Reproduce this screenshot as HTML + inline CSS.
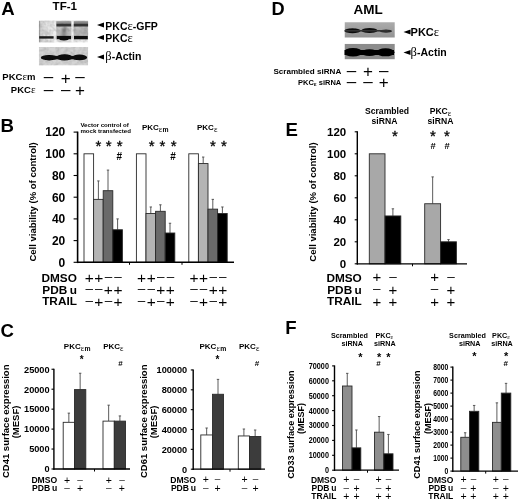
<!DOCTYPE html>
<html><head><meta charset="utf-8"><title>Figure</title>
<style>
html,body{margin:0;padding:0;background:#fff;}
svg{display:block;font-family:"Liberation Sans",sans-serif;filter:blur(0.4px);}
</style></head><body>
<svg width="520" height="501" viewBox="0 0 520 501">
<rect width="520" height="501" fill="#fff"/>
<defs>
<filter id="b1" x="-20%" y="-50%" width="140%" height="200%"><feGaussianBlur stdDeviation="0.75"/></filter>
<filter id="b2" x="-20%" y="-50%" width="140%" height="200%"><feGaussianBlur stdDeviation="1.4"/></filter>
<filter id="nz" x="0" y="0" width="100%" height="100%"><feTurbulence type="fractalNoise" baseFrequency="0.25" numOctaves="2" seed="3"/><feColorMatrix type="matrix" values="0 0 0 0 0  0 0 0 0 0  0 0 0 0 0  0.25 0.25 0 0 -0.2"/><feGaussianBlur stdDeviation="0.6"/></filter>
<clipPath id="cA1"><rect x="38.8" y="20.6" width="49.4" height="22"/></clipPath>
<clipPath id="cA2"><rect x="38.8" y="47" width="49.4" height="18.6"/></clipPath>
<clipPath id="cD1"><rect x="344.5" y="22.3" width="50.3" height="15.2"/></clipPath>
<clipPath id="cD2"><rect x="344.5" y="43.8" width="50.3" height="15.6"/></clipPath>
</defs>
<!-- blot A top -->
<linearGradient id="gA1" x1="0" y1="0" x2="1" y2="0"><stop offset="0" stop-color="#8c8c8c"/><stop offset="0.12" stop-color="#cfcfcf"/><stop offset="0.35" stop-color="#e2e2e2"/><stop offset="1" stop-color="#ececec"/></linearGradient>
<g clip-path="url(#cA1)">
<rect x="38.8" y="20.6" width="49.4" height="22" fill="#ececec"/>
<rect x="38.8" y="20.6" width="15.6" height="22" fill="url(#gA1)"/>
<rect x="56.2" y="20.6" width="15.2" height="19" fill="#c6c6c6"/>
<rect x="73.6" y="20.6" width="14.6" height="19" fill="#c2c2c2"/>
<rect x="54.5" y="20.6" width="1.6" height="22" fill="#f4f4f4"/>
<rect x="71.6" y="20.6" width="1.9" height="22" fill="#fafafa"/>
<rect x="38.8" y="20.6" width="49.4" height="22" fill="#000" filter="url(#nz)"/>
<g filter="url(#b2)">
<rect x="62.3" y="28" width="3.6" height="9" fill="#5a5a5a"/>
<rect x="44" y="30" width="3" height="4" fill="#b4b4b4"/>
<rect x="74" y="30.3" width="14" height="1.4" fill="#9a9a9a"/>
<rect x="74" y="33.2" width="14" height="1.2" fill="#a2a2a2"/>
<rect x="57" y="32.5" width="14" height="2" fill="#a4a4a4"/>
</g>
<g filter="url(#b1)">
<rect x="56.4" y="21.4" width="14.8" height="1.8" fill="#909090"/>
<rect x="73.8" y="21.4" width="14.6" height="1.8" fill="#868686"/>
<rect x="56.4" y="23.5" width="14.8" height="3" fill="#363636"/>
<rect x="73.8" y="23.5" width="14.6" height="3" fill="#303030"/>
<rect x="39.2" y="36.2" width="14.4" height="2.4" fill="#1a1a1a"/>
<rect x="56.8" y="35.9" width="14.2" height="3.2" fill="#0c0c0c"/>
<ellipse cx="64" cy="38.2" rx="5" ry="2.2" fill="#0c0c0c"/>
<rect x="74" y="35.9" width="13.8" height="3.3" fill="#0c0c0c"/>
</g>
</g>
<!-- blot A actin -->
<g clip-path="url(#cA2)">
<rect x="38.8" y="47" width="49.4" height="18.6" fill="#d4d4d4"/>
<rect x="38.8" y="47" width="49.4" height="18.6" fill="#000" filter="url(#nz)" opacity="0.7"/>
<g filter="url(#b1)" fill="#080808">
<ellipse cx="49.2" cy="57.7" rx="8.4" ry="2.7"/>
<ellipse cx="64.6" cy="57.4" rx="8.2" ry="3.1"/>
<ellipse cx="79.6" cy="57.4" rx="7.6" ry="2.8"/>
<rect x="45" y="55.9" width="36" height="3.4"/>
</g>
</g>
<!-- blot D top -->
<linearGradient id="gD1" x1="0" y1="0" x2="0" y2="1"><stop offset="0" stop-color="#acacac"/><stop offset="1" stop-color="#929292"/></linearGradient>
<g clip-path="url(#cD1)">
<rect x="344.5" y="22" width="50.4" height="16" fill="url(#gD1)"/>
<g filter="url(#b1)" fill="#0c0c0c">
<ellipse cx="352.5" cy="30.8" rx="8" ry="2.5"/>
<ellipse cx="369.5" cy="30.6" rx="8" ry="2.5"/>
<ellipse cx="386" cy="31.2" rx="6" ry="1.6" fill="#2a2a2a"/>
<rect x="344" y="30" width="44" height="1.6" fill="#333"/>
</g>
</g>
<!-- blot D actin -->
<g clip-path="url(#cD2)">
<rect x="344.5" y="43.8" width="50.4" height="15.6" fill="#8c8c8c"/>
<g filter="url(#b1)" fill="#030303">
<ellipse cx="353" cy="52.2" rx="9.5" ry="4.3"/>
<ellipse cx="369.5" cy="52.6" rx="8.5" ry="3.4"/>
<ellipse cx="385.5" cy="52.3" rx="9" ry="4"/>
<rect x="344" y="50" width="50" height="5"/>
</g>
</g>

<text x="1.2" y="15.1" font-size="18.6" text-anchor="start" font-weight="bold" fill="#000" >A</text>
<text x="0.6" y="131.7" font-size="18.6" text-anchor="start" font-weight="bold" fill="#000" >B</text>
<text x="0.6" y="337.3" font-size="18.6" text-anchor="start" font-weight="bold" fill="#000" >C</text>
<text x="271.6" y="15" font-size="18.2" text-anchor="start" font-weight="bold" fill="#000" >D</text>
<text x="285.4" y="136" font-size="18.6" text-anchor="start" font-weight="bold" fill="#000" >E</text>
<text x="285.2" y="334" font-size="18.6" text-anchor="start" font-weight="bold" fill="#000" >F</text>
<text x="64.8" y="10.3" font-size="11.6" text-anchor="middle" font-weight="bold" fill="#000" >TF-1</text>
<g id="blotA"></g>
<polygon points="97,24.9 104,22.4 104,27.4" fill="#000"/>
<text x="105.3" y="30.2" font-size="10.5" text-anchor="start" font-weight="bold" fill="#000" >PKC<tspan font-family="Liberation Serif,serif" font-weight="normal" font-size="12.5">ε</tspan>-GFP</text>
<polygon points="97,37.4 104,34.9 104,39.9" fill="#000"/>
<text x="105.3" y="41.6" font-size="10.5" text-anchor="start" font-weight="bold" fill="#000" >PKC<tspan font-family="Liberation Serif,serif" font-weight="normal" font-size="12.5">ε</tspan></text>
<polygon points="97,56.9 104,54.4 104,59.4" fill="#000"/>
<text x="105.3" y="60.2" font-size="10.5" text-anchor="start" font-weight="bold" fill="#000" ><tspan font-family="Liberation Serif,serif" font-weight="normal" font-size="12.5">β</tspan>-Actin</text>
<text x="35.5" y="80.4" font-size="9.5" text-anchor="end" font-weight="bold" fill="#000" >PKC<tspan font-family="Liberation Serif,serif" font-weight="normal" font-size="11">ε</tspan>m</text>
<text x="35.5" y="92.5" font-size="9.5" text-anchor="end" font-weight="bold" fill="#000" >PKC<tspan font-family="Liberation Serif,serif" font-weight="normal" font-size="11">ε</tspan></text>
<text x="48.5" y="82.33" font-size="17.0" text-anchor="middle" font-weight="normal" fill="#000" >–</text>
<text x="48.5" y="94.83" font-size="17.0" text-anchor="middle" font-weight="normal" fill="#000" >–</text>
<text x="65.7" y="83.69" font-size="17" text-anchor="middle" font-weight="normal" fill="#000" >+</text>
<text x="65.7" y="94.83" font-size="17.0" text-anchor="middle" font-weight="normal" fill="#000" >–</text>
<text x="80" y="82.33" font-size="17.0" text-anchor="middle" font-weight="normal" fill="#000" >–</text>
<text x="80" y="96.19" font-size="17" text-anchor="middle" font-weight="normal" fill="#000" >+</text>
<text x="368.1" y="13.6" font-size="13.5" text-anchor="middle" font-weight="bold" fill="#000" >AML</text>
<g id="blotD"></g>
<polygon points="403.5,32 410.5,29.5 410.5,34.5" fill="#000"/>
<text x="410.6" y="36" font-size="11" text-anchor="start" font-weight="bold" fill="#000" >PKC<tspan font-family="Liberation Serif,serif" font-weight="normal" font-size="12.5">ε</tspan></text>
<polygon points="403.5,52.5 410.5,50.0 410.5,55.0" fill="#000"/>
<text x="410.6" y="55.8" font-size="10.5" text-anchor="start" font-weight="bold" fill="#000" ><tspan font-family="Liberation Serif,serif" font-weight="normal" font-size="12.5">β</tspan>-Actin</text>
<text x="341.3" y="74" font-size="8.1" text-anchor="end" font-weight="bold" fill="#000" >Scrambled siRNA</text>
<text x="341.3" y="85.2" font-size="7.5" text-anchor="end" font-weight="bold" fill="#000" >PKC<tspan font-size="6" dy="1">ε</tspan><tspan dy="-1"> siRNA</tspan></text>
<text x="351.5" y="75.53" font-size="17.0" text-anchor="middle" font-weight="normal" fill="#000" >–</text>
<text x="351.5" y="86.83" font-size="17.0" text-anchor="middle" font-weight="normal" fill="#000" >–</text>
<text x="368" y="76.9" font-size="17" text-anchor="middle" font-weight="normal" fill="#000" >+</text>
<text x="368" y="86.83" font-size="17.0" text-anchor="middle" font-weight="normal" fill="#000" >–</text>
<text x="383.8" y="75.53" font-size="17.0" text-anchor="middle" font-weight="normal" fill="#000" >–</text>
<text x="383.8" y="88.19" font-size="17" text-anchor="middle" font-weight="normal" fill="#000" >+</text>
<rect x="84.00" y="153.80" width="9.60" height="108.50" fill="#ffffff" stroke="#2a2a2a" stroke-width="0.9"/>
<line x1="98.40" y1="199.37" x2="98.40" y2="180.93" stroke="#4a4a4a" stroke-width="0.9"/>
<line x1="97.20" y1="180.93" x2="99.60" y2="180.93" stroke="#4a4a4a" stroke-width="0.9"/>
<rect x="93.60" y="199.37" width="9.60" height="62.93" fill="#b4b4b4" stroke="#2a2a2a" stroke-width="0.9"/>
<line x1="108.00" y1="190.69" x2="108.00" y2="170.08" stroke="#4a4a4a" stroke-width="0.9"/>
<line x1="106.80" y1="170.08" x2="109.20" y2="170.08" stroke="#4a4a4a" stroke-width="0.9"/>
<rect x="103.20" y="190.69" width="9.60" height="71.61" fill="#6a6a6a" stroke="#2a2a2a" stroke-width="0.9"/>
<line x1="117.60" y1="229.75" x2="117.60" y2="218.90" stroke="#4a4a4a" stroke-width="0.9"/>
<line x1="116.40" y1="218.90" x2="118.80" y2="218.90" stroke="#4a4a4a" stroke-width="0.9"/>
<rect x="112.80" y="229.75" width="9.60" height="32.55" fill="#000000" stroke="#2a2a2a" stroke-width="0.9"/>
<rect x="136.40" y="153.80" width="9.60" height="108.50" fill="#ffffff" stroke="#2a2a2a" stroke-width="0.9"/>
<line x1="150.80" y1="213.48" x2="150.80" y2="206.97" stroke="#4a4a4a" stroke-width="0.9"/>
<line x1="149.60" y1="206.97" x2="152.00" y2="206.97" stroke="#4a4a4a" stroke-width="0.9"/>
<rect x="146.00" y="213.48" width="9.60" height="48.82" fill="#b4b4b4" stroke="#2a2a2a" stroke-width="0.9"/>
<line x1="160.40" y1="211.31" x2="160.40" y2="204.80" stroke="#4a4a4a" stroke-width="0.9"/>
<line x1="159.20" y1="204.80" x2="161.60" y2="204.80" stroke="#4a4a4a" stroke-width="0.9"/>
<rect x="155.60" y="211.31" width="9.60" height="51.00" fill="#6a6a6a" stroke="#2a2a2a" stroke-width="0.9"/>
<line x1="170.00" y1="233.01" x2="170.00" y2="223.24" stroke="#4a4a4a" stroke-width="0.9"/>
<line x1="168.80" y1="223.24" x2="171.20" y2="223.24" stroke="#4a4a4a" stroke-width="0.9"/>
<rect x="165.20" y="233.01" width="9.60" height="29.29" fill="#000000" stroke="#2a2a2a" stroke-width="0.9"/>
<rect x="188.80" y="153.80" width="9.60" height="108.50" fill="#ffffff" stroke="#2a2a2a" stroke-width="0.9"/>
<line x1="203.20" y1="163.56" x2="203.20" y2="157.06" stroke="#4a4a4a" stroke-width="0.9"/>
<line x1="202.00" y1="157.06" x2="204.40" y2="157.06" stroke="#4a4a4a" stroke-width="0.9"/>
<rect x="198.40" y="163.56" width="9.60" height="98.74" fill="#b4b4b4" stroke="#2a2a2a" stroke-width="0.9"/>
<line x1="212.80" y1="209.14" x2="212.80" y2="199.37" stroke="#4a4a4a" stroke-width="0.9"/>
<line x1="211.60" y1="199.37" x2="214.00" y2="199.37" stroke="#4a4a4a" stroke-width="0.9"/>
<rect x="208.00" y="209.14" width="9.60" height="53.16" fill="#6a6a6a" stroke="#2a2a2a" stroke-width="0.9"/>
<line x1="222.40" y1="213.48" x2="222.40" y2="206.97" stroke="#4a4a4a" stroke-width="0.9"/>
<line x1="221.20" y1="206.97" x2="223.60" y2="206.97" stroke="#4a4a4a" stroke-width="0.9"/>
<rect x="217.60" y="213.48" width="9.60" height="48.82" fill="#000000" stroke="#2a2a2a" stroke-width="0.9"/>
<line x1="77.60" y1="131.60" x2="77.60" y2="263.10" stroke="#000" stroke-width="1.6"/>
<line x1="77.10" y1="262.30" x2="234.00" y2="262.30" stroke="#000" stroke-width="1.6"/>
<line x1="73.60" y1="262.30" x2="77.60" y2="262.30" stroke="#000" stroke-width="1.1"/>
<text x="65.3" y="266.62" font-size="12" text-anchor="end" font-weight="bold" fill="#000" >0</text>
<line x1="73.60" y1="240.60" x2="77.60" y2="240.60" stroke="#000" stroke-width="1.1"/>
<text x="65.3" y="244.92000000000002" font-size="12" text-anchor="end" font-weight="bold" fill="#000" >20</text>
<line x1="73.60" y1="218.90" x2="77.60" y2="218.90" stroke="#000" stroke-width="1.1"/>
<text x="65.3" y="223.22" font-size="12" text-anchor="end" font-weight="bold" fill="#000" >40</text>
<line x1="73.60" y1="197.20" x2="77.60" y2="197.20" stroke="#000" stroke-width="1.1"/>
<text x="65.3" y="201.52" font-size="12" text-anchor="end" font-weight="bold" fill="#000" >60</text>
<line x1="73.60" y1="175.50" x2="77.60" y2="175.50" stroke="#000" stroke-width="1.1"/>
<text x="65.3" y="179.82" font-size="12" text-anchor="end" font-weight="bold" fill="#000" >80</text>
<line x1="73.60" y1="153.80" x2="77.60" y2="153.80" stroke="#000" stroke-width="1.1"/>
<text x="65.3" y="158.12" font-size="12" text-anchor="end" font-weight="bold" fill="#000" >100</text>
<line x1="73.60" y1="132.10" x2="77.60" y2="132.10" stroke="#000" stroke-width="1.1"/>
<text x="65.3" y="136.42000000000002" font-size="12" text-anchor="end" font-weight="bold" fill="#000" >120</text>
<line x1="129.50" y1="262.30" x2="129.50" y2="264.80" stroke="#000" stroke-width="1.0"/>
<line x1="182.00" y1="262.30" x2="182.00" y2="264.80" stroke="#000" stroke-width="1.0"/>
<text transform="translate(35.6,201.9) rotate(-90)" font-size="9.5" font-weight="bold" text-anchor="middle">Cell viability (% of control)</text>
<text x="80.4" y="127" font-size="6.1" text-anchor="start" font-weight="bold" fill="#000" >Vector control of</text>
<text x="80.4" y="133.2" font-size="6.1" text-anchor="start" font-weight="bold" fill="#000" >mock transfected</text>
<text x="141.9" y="130.2" font-size="8" text-anchor="start" font-weight="bold" fill="#000" >PKC<tspan dx="1.2"></tspan><tspan font-family="Liberation Serif,serif" font-weight="normal" font-size="8.4" dy="1.6">ε</tspan><tspan font-size="6.8" dx="0.2">m</tspan></text>
<text x="197" y="130.2" font-size="8" text-anchor="start" font-weight="bold" fill="#000" >PKC<tspan dx="1.6"></tspan><tspan font-family="Liberation Serif,serif" font-weight="normal" font-size="8.4" dy="1.6">ε</tspan></text>
<text x="98.5" y="150.9" font-size="15" text-anchor="middle" font-weight="normal" fill="#000" stroke="#000" stroke-width="0.3">*</text>
<text x="108.7" y="150.9" font-size="15" text-anchor="middle" font-weight="normal" fill="#000" stroke="#000" stroke-width="0.3">*</text>
<text x="119.6" y="150.9" font-size="15" text-anchor="middle" font-weight="normal" fill="#000" stroke="#000" stroke-width="0.3">*</text>
<text x="119.2" y="159.6" font-size="10" text-anchor="middle" font-weight="bold" fill="#000" >#</text>
<text x="151.7" y="150.9" font-size="15" text-anchor="middle" font-weight="normal" fill="#000" stroke="#000" stroke-width="0.3">*</text>
<text x="162.4" y="150.9" font-size="15" text-anchor="middle" font-weight="normal" fill="#000" stroke="#000" stroke-width="0.3">*</text>
<text x="173.6" y="150.9" font-size="15" text-anchor="middle" font-weight="normal" fill="#000" stroke="#000" stroke-width="0.3">*</text>
<text x="173" y="159.6" font-size="10" text-anchor="middle" font-weight="bold" fill="#000" >#</text>
<text x="213" y="150.9" font-size="15" text-anchor="middle" font-weight="normal" fill="#000" stroke="#000" stroke-width="0.3">*</text>
<text x="224" y="150.9" font-size="15" text-anchor="middle" font-weight="normal" fill="#000" stroke="#000" stroke-width="0.3">*</text>
<text x="76.9" y="281.8" font-size="11.8" text-anchor="end" font-weight="bold" fill="#000" >DMSO</text>
<text x="76.9" y="293.7" font-size="11.8" text-anchor="end" font-weight="bold" fill="#000" >PDB<tspan dx="2.4">u</tspan></text>
<text x="76.9" y="304.9" font-size="11.8" text-anchor="end" font-weight="bold" fill="#000" >TRAIL</text>
<text x="89.2" y="282.59" font-size="15.5" text-anchor="middle" font-weight="normal" fill="#000" >+</text>
<text x="98.80000000000001" y="282.59" font-size="15.5" text-anchor="middle" font-weight="normal" fill="#000" >+</text>
<text x="108.4" y="280.84" font-size="13.48" text-anchor="middle" font-weight="normal" fill="#000" >–</text>
<text x="118.0" y="280.84" font-size="13.48" text-anchor="middle" font-weight="normal" fill="#000" >–</text>
<text x="89.2" y="293.34" font-size="13.48" text-anchor="middle" font-weight="normal" fill="#000" >–</text>
<text x="98.80000000000001" y="293.34" font-size="13.48" text-anchor="middle" font-weight="normal" fill="#000" >–</text>
<text x="108.4" y="295.09" font-size="15.5" text-anchor="middle" font-weight="normal" fill="#000" >+</text>
<text x="118.0" y="295.09" font-size="15.5" text-anchor="middle" font-weight="normal" fill="#000" >+</text>
<text x="89.2" y="305.04" font-size="13.48" text-anchor="middle" font-weight="normal" fill="#000" >–</text>
<text x="98.80000000000001" y="306.79" font-size="15.5" text-anchor="middle" font-weight="normal" fill="#000" >+</text>
<text x="108.4" y="305.04" font-size="13.48" text-anchor="middle" font-weight="normal" fill="#000" >–</text>
<text x="118.0" y="306.79" font-size="15.5" text-anchor="middle" font-weight="normal" fill="#000" >+</text>
<text x="141.60000000000002" y="282.59" font-size="15.5" text-anchor="middle" font-weight="normal" fill="#000" >+</text>
<text x="151.20000000000002" y="282.59" font-size="15.5" text-anchor="middle" font-weight="normal" fill="#000" >+</text>
<text x="160.8" y="280.84" font-size="13.48" text-anchor="middle" font-weight="normal" fill="#000" >–</text>
<text x="170.4" y="280.84" font-size="13.48" text-anchor="middle" font-weight="normal" fill="#000" >–</text>
<text x="141.60000000000002" y="293.34" font-size="13.48" text-anchor="middle" font-weight="normal" fill="#000" >–</text>
<text x="151.20000000000002" y="293.34" font-size="13.48" text-anchor="middle" font-weight="normal" fill="#000" >–</text>
<text x="160.8" y="295.09" font-size="15.5" text-anchor="middle" font-weight="normal" fill="#000" >+</text>
<text x="170.4" y="295.09" font-size="15.5" text-anchor="middle" font-weight="normal" fill="#000" >+</text>
<text x="141.60000000000002" y="305.04" font-size="13.48" text-anchor="middle" font-weight="normal" fill="#000" >–</text>
<text x="151.20000000000002" y="306.79" font-size="15.5" text-anchor="middle" font-weight="normal" fill="#000" >+</text>
<text x="160.8" y="305.04" font-size="13.48" text-anchor="middle" font-weight="normal" fill="#000" >–</text>
<text x="170.4" y="306.79" font-size="15.5" text-anchor="middle" font-weight="normal" fill="#000" >+</text>
<text x="194.00000000000003" y="282.59" font-size="15.5" text-anchor="middle" font-weight="normal" fill="#000" >+</text>
<text x="203.60000000000002" y="282.59" font-size="15.5" text-anchor="middle" font-weight="normal" fill="#000" >+</text>
<text x="213.20000000000002" y="280.84" font-size="13.48" text-anchor="middle" font-weight="normal" fill="#000" >–</text>
<text x="222.8" y="280.84" font-size="13.48" text-anchor="middle" font-weight="normal" fill="#000" >–</text>
<text x="194.00000000000003" y="293.34" font-size="13.48" text-anchor="middle" font-weight="normal" fill="#000" >–</text>
<text x="203.60000000000002" y="293.34" font-size="13.48" text-anchor="middle" font-weight="normal" fill="#000" >–</text>
<text x="213.20000000000002" y="295.09" font-size="15.5" text-anchor="middle" font-weight="normal" fill="#000" >+</text>
<text x="222.8" y="295.09" font-size="15.5" text-anchor="middle" font-weight="normal" fill="#000" >+</text>
<text x="194.00000000000003" y="305.04" font-size="13.48" text-anchor="middle" font-weight="normal" fill="#000" >–</text>
<text x="203.60000000000002" y="306.79" font-size="15.5" text-anchor="middle" font-weight="normal" fill="#000" >+</text>
<text x="213.20000000000002" y="305.04" font-size="13.48" text-anchor="middle" font-weight="normal" fill="#000" >–</text>
<text x="222.8" y="306.79" font-size="15.5" text-anchor="middle" font-weight="normal" fill="#000" >+</text>
<rect x="369.30" y="153.80" width="15.70" height="110.00" fill="#a8a8a8" stroke="#2a2a2a" stroke-width="0.9"/>
<line x1="392.90" y1="215.95" x2="392.90" y2="208.80" stroke="#4a4a4a" stroke-width="0.9"/>
<line x1="391.70" y1="208.80" x2="394.10" y2="208.80" stroke="#4a4a4a" stroke-width="0.9"/>
<rect x="385.00" y="215.95" width="15.80" height="47.85" fill="#000000" stroke="#2a2a2a" stroke-width="0.9"/>
<line x1="432.65" y1="203.74" x2="432.65" y2="176.90" stroke="#4a4a4a" stroke-width="0.9"/>
<line x1="431.45" y1="176.90" x2="433.85" y2="176.90" stroke="#4a4a4a" stroke-width="0.9"/>
<rect x="424.70" y="203.74" width="15.90" height="60.06" fill="#a8a8a8" stroke="#2a2a2a" stroke-width="0.9"/>
<line x1="448.50" y1="241.80" x2="448.50" y2="239.60" stroke="#4a4a4a" stroke-width="0.9"/>
<line x1="447.30" y1="239.60" x2="449.70" y2="239.60" stroke="#4a4a4a" stroke-width="0.9"/>
<rect x="440.60" y="241.80" width="15.80" height="22.00" fill="#000000" stroke="#2a2a2a" stroke-width="0.9"/>
<line x1="357.30" y1="131.30" x2="357.30" y2="264.60" stroke="#000" stroke-width="1.4"/>
<line x1="356.80" y1="263.80" x2="467.00" y2="263.80" stroke="#000" stroke-width="1.2999999999999998"/>
<line x1="354.70" y1="263.80" x2="357.30" y2="263.80" stroke="#000" stroke-width="1.1"/>
<text x="346.2" y="267.94" font-size="11.5" text-anchor="end" font-weight="bold" fill="#000" >0</text>
<line x1="354.70" y1="241.80" x2="357.30" y2="241.80" stroke="#000" stroke-width="1.1"/>
<text x="346.2" y="245.94" font-size="11.5" text-anchor="end" font-weight="bold" fill="#000" >20</text>
<line x1="354.70" y1="219.80" x2="357.30" y2="219.80" stroke="#000" stroke-width="1.1"/>
<text x="346.2" y="223.94" font-size="11.5" text-anchor="end" font-weight="bold" fill="#000" >40</text>
<line x1="354.70" y1="197.80" x2="357.30" y2="197.80" stroke="#000" stroke-width="1.1"/>
<text x="346.2" y="201.94" font-size="11.5" text-anchor="end" font-weight="bold" fill="#000" >60</text>
<line x1="354.70" y1="175.80" x2="357.30" y2="175.80" stroke="#000" stroke-width="1.1"/>
<text x="346.2" y="179.94" font-size="11.5" text-anchor="end" font-weight="bold" fill="#000" >80</text>
<line x1="354.70" y1="153.80" x2="357.30" y2="153.80" stroke="#000" stroke-width="1.1"/>
<text x="346.2" y="157.94" font-size="11.5" text-anchor="end" font-weight="bold" fill="#000" >100</text>
<line x1="354.70" y1="131.80" x2="357.30" y2="131.80" stroke="#000" stroke-width="1.1"/>
<text x="346.2" y="135.94" font-size="11.5" text-anchor="end" font-weight="bold" fill="#000" >120</text>
<line x1="412.50" y1="263.80" x2="412.50" y2="266.30" stroke="#000" stroke-width="1.0"/>
<text transform="translate(316.3,202) rotate(-90)" font-size="9.5" font-weight="bold" text-anchor="middle">Cell viability (% of control)</text>
<text x="387" y="114" font-size="8.6" text-anchor="middle" font-weight="bold" fill="#000" >Scrambled</text>
<text x="384.5" y="124.3" font-size="8.6" text-anchor="middle" font-weight="bold" fill="#000" >siRNA</text>
<text x="440.5" y="114" font-size="8.6" text-anchor="middle" font-weight="bold" fill="#000" >PKC<tspan dx="0.8"></tspan><tspan font-family="Liberation Serif,serif" font-weight="normal" font-size="8.4" dy="1.6">ε</tspan></text>
<text x="440.5" y="124.3" font-size="8.6" text-anchor="middle" font-weight="bold" fill="#000" >siRNA</text>
<text x="395" y="140.8" font-size="15" text-anchor="middle" font-weight="normal" fill="#000" stroke="#000" stroke-width="0.3">*</text>
<text x="433" y="140.8" font-size="15" text-anchor="middle" font-weight="normal" fill="#000" stroke="#000" stroke-width="0.3">*</text>
<text x="433" y="149" font-size="9.4" text-anchor="middle" font-weight="bold" fill="#000" >#</text>
<text x="447" y="140.8" font-size="15" text-anchor="middle" font-weight="normal" fill="#000" stroke="#000" stroke-width="0.3">*</text>
<text x="447" y="149" font-size="9.4" text-anchor="middle" font-weight="bold" fill="#000" >#</text>
<text x="361.8" y="281.6" font-size="11.8" text-anchor="end" font-weight="bold" fill="#000" >DMSO</text>
<text x="361.8" y="293.5" font-size="11.8" text-anchor="end" font-weight="bold" fill="#000" >PDB<tspan dx="2.4">u</tspan></text>
<text x="361.8" y="305.2" font-size="11.8" text-anchor="end" font-weight="bold" fill="#000" >TRAIL</text>
<text x="376.8" y="282.12" font-size="15" text-anchor="middle" font-weight="normal" fill="#000" >+</text>
<text x="393" y="280.54" font-size="13.5" text-anchor="middle" font-weight="normal" fill="#000" >–</text>
<text x="434.6" y="282.12" font-size="15" text-anchor="middle" font-weight="normal" fill="#000" >+</text>
<text x="451" y="280.54" font-size="13.5" text-anchor="middle" font-weight="normal" fill="#000" >–</text>
<text x="376.8" y="293.04" font-size="13.5" text-anchor="middle" font-weight="normal" fill="#000" >–</text>
<text x="393" y="294.62" font-size="15" text-anchor="middle" font-weight="normal" fill="#000" >+</text>
<text x="434.6" y="293.04" font-size="13.5" text-anchor="middle" font-weight="normal" fill="#000" >–</text>
<text x="451" y="294.62" font-size="15" text-anchor="middle" font-weight="normal" fill="#000" >+</text>
<text x="376.8" y="306.52" font-size="15" text-anchor="middle" font-weight="normal" fill="#000" >+</text>
<text x="393" y="306.52" font-size="15" text-anchor="middle" font-weight="normal" fill="#000" >+</text>
<text x="434.6" y="306.52" font-size="15" text-anchor="middle" font-weight="normal" fill="#000" >+</text>
<text x="451" y="306.52" font-size="15" text-anchor="middle" font-weight="normal" fill="#000" >+</text>
<line x1="68.85" y1="422.32" x2="68.85" y2="413.14" stroke="#4a4a4a" stroke-width="0.9"/>
<line x1="67.65" y1="413.14" x2="70.05" y2="413.14" stroke="#4a4a4a" stroke-width="0.9"/>
<rect x="63.20" y="422.32" width="11.30" height="46.68" fill="#ffffff" stroke="#2a2a2a" stroke-width="0.9"/>
<line x1="80.15" y1="389.60" x2="80.15" y2="373.24" stroke="#4a4a4a" stroke-width="0.9"/>
<line x1="78.95" y1="373.24" x2="81.35" y2="373.24" stroke="#4a4a4a" stroke-width="0.9"/>
<rect x="74.50" y="389.60" width="11.30" height="79.40" fill="#3c3c3c" stroke="#2a2a2a" stroke-width="0.9"/>
<line x1="108.65" y1="421.12" x2="108.65" y2="405.16" stroke="#4a4a4a" stroke-width="0.9"/>
<line x1="107.45" y1="405.16" x2="109.85" y2="405.16" stroke="#4a4a4a" stroke-width="0.9"/>
<rect x="103.00" y="421.12" width="11.30" height="47.88" fill="#ffffff" stroke="#2a2a2a" stroke-width="0.9"/>
<line x1="119.90" y1="421.12" x2="119.90" y2="415.93" stroke="#4a4a4a" stroke-width="0.9"/>
<line x1="118.70" y1="415.93" x2="121.10" y2="415.93" stroke="#4a4a4a" stroke-width="0.9"/>
<rect x="114.30" y="421.12" width="11.20" height="47.88" fill="#3c3c3c" stroke="#2a2a2a" stroke-width="0.9"/>
<line x1="53.90" y1="368.75" x2="53.90" y2="469.80" stroke="#000" stroke-width="1.4"/>
<line x1="53.40" y1="469.00" x2="130.00" y2="469.00" stroke="#000" stroke-width="1.2999999999999998"/>
<line x1="51.50" y1="469.00" x2="53.90" y2="469.00" stroke="#000" stroke-width="1.1"/>
<text x="49.6" y="472.312" font-size="9.2" text-anchor="end" font-weight="bold" fill="#000" >0</text>
<line x1="51.50" y1="449.05" x2="53.90" y2="449.05" stroke="#000" stroke-width="1.1"/>
<text x="49.6" y="452.362" font-size="9.2" text-anchor="end" font-weight="bold" fill="#000" >5000</text>
<line x1="51.50" y1="429.10" x2="53.90" y2="429.10" stroke="#000" stroke-width="1.1"/>
<text x="49.6" y="432.41200000000003" font-size="9.2" text-anchor="end" font-weight="bold" fill="#000" >10000</text>
<line x1="51.50" y1="409.15" x2="53.90" y2="409.15" stroke="#000" stroke-width="1.1"/>
<text x="49.6" y="412.462" font-size="9.2" text-anchor="end" font-weight="bold" fill="#000" >15000</text>
<line x1="51.50" y1="389.20" x2="53.90" y2="389.20" stroke="#000" stroke-width="1.1"/>
<text x="49.6" y="392.512" font-size="9.2" text-anchor="end" font-weight="bold" fill="#000" >20000</text>
<line x1="51.50" y1="369.25" x2="53.90" y2="369.25" stroke="#000" stroke-width="1.1"/>
<text x="49.6" y="372.562" font-size="9.2" text-anchor="end" font-weight="bold" fill="#000" >25000</text>
<line x1="94.50" y1="469.00" x2="94.50" y2="471.50" stroke="#000" stroke-width="1.0"/>
<text transform="translate(9.3,421.3) rotate(-90)" font-size="9.5" font-weight="bold" text-anchor="middle">CD41 surface expression</text>
<text transform="translate(19.3,422) rotate(-90)" font-size="9.5" font-weight="bold" text-anchor="middle">(MESF)</text>
<text x="63.8" y="349" font-size="8" text-anchor="start" font-weight="bold" fill="#000" >PKC<tspan dx="1.2"></tspan><tspan font-family="Liberation Serif,serif" font-weight="normal" font-size="8.2" dy="1.5">ε</tspan><tspan font-size="6.8" dx="0.3">m</tspan></text>
<text x="103.2" y="349" font-size="8" text-anchor="start" font-weight="bold" fill="#000" >PKC<tspan dx="1.6"></tspan><tspan font-family="Liberation Serif,serif" font-weight="normal" font-size="8.2" dy="1.5">ε</tspan></text>
<text x="81.7" y="363" font-size="10" text-anchor="middle" font-weight="bold" fill="#000" >*</text>
<text x="120.6" y="366.3" font-size="8" text-anchor="middle" font-weight="bold" fill="#000" >#</text>
<text x="57.2" y="482.6" font-size="8.6" text-anchor="end" font-weight="bold" fill="#000" >DMSO</text>
<text x="57.2" y="491" font-size="8.6" text-anchor="end" font-weight="bold" fill="#000" >PDB<tspan dx="1.7">u</tspan></text>
<text x="67" y="483.52" font-size="10.5" text-anchor="middle" font-weight="normal" fill="#000" >+</text>
<text x="80" y="482.54" font-size="9.97" text-anchor="middle" font-weight="normal" fill="#000" >–</text>
<text x="108.7" y="483.52" font-size="10.5" text-anchor="middle" font-weight="normal" fill="#000" >+</text>
<text x="121.9" y="482.54" font-size="9.97" text-anchor="middle" font-weight="normal" fill="#000" >–</text>
<text x="67" y="490.94" font-size="9.97" text-anchor="middle" font-weight="normal" fill="#000" >–</text>
<text x="80" y="491.92" font-size="10.5" text-anchor="middle" font-weight="normal" fill="#000" >+</text>
<text x="108.7" y="490.94" font-size="9.97" text-anchor="middle" font-weight="normal" fill="#000" >–</text>
<text x="121.9" y="491.92" font-size="10.5" text-anchor="middle" font-weight="normal" fill="#000" >+</text>
<line x1="206.65" y1="434.96" x2="206.65" y2="428.01" stroke="#4a4a4a" stroke-width="0.9"/>
<line x1="205.45" y1="428.01" x2="207.85" y2="428.01" stroke="#4a4a4a" stroke-width="0.9"/>
<rect x="200.80" y="434.96" width="11.70" height="34.24" fill="#ffffff" stroke="#2a2a2a" stroke-width="0.9"/>
<line x1="218.00" y1="394.27" x2="218.00" y2="379.38" stroke="#4a4a4a" stroke-width="0.9"/>
<line x1="216.80" y1="379.38" x2="219.20" y2="379.38" stroke="#4a4a4a" stroke-width="0.9"/>
<rect x="212.50" y="394.27" width="11.00" height="74.93" fill="#3c3c3c" stroke="#2a2a2a" stroke-width="0.9"/>
<line x1="243.90" y1="435.95" x2="243.90" y2="429.00" stroke="#4a4a4a" stroke-width="0.9"/>
<line x1="242.70" y1="429.00" x2="245.10" y2="429.00" stroke="#4a4a4a" stroke-width="0.9"/>
<rect x="238.30" y="435.95" width="11.20" height="33.25" fill="#ffffff" stroke="#2a2a2a" stroke-width="0.9"/>
<line x1="255.15" y1="436.45" x2="255.15" y2="430.00" stroke="#4a4a4a" stroke-width="0.9"/>
<line x1="253.95" y1="430.00" x2="256.35" y2="430.00" stroke="#4a4a4a" stroke-width="0.9"/>
<rect x="249.50" y="436.45" width="11.30" height="32.75" fill="#3c3c3c" stroke="#2a2a2a" stroke-width="0.9"/>
<line x1="193.20" y1="369.45" x2="193.20" y2="470.00" stroke="#000" stroke-width="1.4"/>
<line x1="192.70" y1="469.20" x2="265.00" y2="469.20" stroke="#000" stroke-width="1.2999999999999998"/>
<line x1="190.80" y1="469.20" x2="193.20" y2="469.20" stroke="#000" stroke-width="1.1"/>
<text x="187.2" y="472.512" font-size="9.2" text-anchor="end" font-weight="bold" fill="#000" >0</text>
<line x1="190.80" y1="449.35" x2="193.20" y2="449.35" stroke="#000" stroke-width="1.1"/>
<text x="187.2" y="452.662" font-size="9.2" text-anchor="end" font-weight="bold" fill="#000" >20000</text>
<line x1="190.80" y1="429.50" x2="193.20" y2="429.50" stroke="#000" stroke-width="1.1"/>
<text x="187.2" y="432.812" font-size="9.2" text-anchor="end" font-weight="bold" fill="#000" >40000</text>
<line x1="190.80" y1="409.65" x2="193.20" y2="409.65" stroke="#000" stroke-width="1.1"/>
<text x="187.2" y="412.962" font-size="9.2" text-anchor="end" font-weight="bold" fill="#000" >60000</text>
<line x1="190.80" y1="389.80" x2="193.20" y2="389.80" stroke="#000" stroke-width="1.1"/>
<text x="187.2" y="393.11199999999997" font-size="9.2" text-anchor="end" font-weight="bold" fill="#000" >80000</text>
<line x1="190.80" y1="369.95" x2="193.20" y2="369.95" stroke="#000" stroke-width="1.1"/>
<text x="187.2" y="373.262" font-size="9.2" text-anchor="end" font-weight="bold" fill="#000" >100000</text>
<line x1="230.00" y1="469.20" x2="230.00" y2="471.70" stroke="#000" stroke-width="1.0"/>
<text transform="translate(147,421.3) rotate(-90)" font-size="9.5" font-weight="bold" text-anchor="middle">CD61 surface expression</text>
<text transform="translate(157,422) rotate(-90)" font-size="9.5" font-weight="bold" text-anchor="middle">(MESF)</text>
<text x="199.5" y="349" font-size="8" text-anchor="start" font-weight="bold" fill="#000" >PKC<tspan dx="1.2"></tspan><tspan font-family="Liberation Serif,serif" font-weight="normal" font-size="8.2" dy="1.5">ε</tspan><tspan font-size="6.8" dx="0.3">m</tspan></text>
<text x="239" y="349" font-size="8" text-anchor="start" font-weight="bold" fill="#000" >PKC<tspan dx="1.6"></tspan><tspan font-family="Liberation Serif,serif" font-weight="normal" font-size="8.2" dy="1.5">ε</tspan></text>
<text x="217.5" y="363" font-size="10" text-anchor="middle" font-weight="bold" fill="#000" >*</text>
<text x="257" y="366.3" font-size="8" text-anchor="middle" font-weight="bold" fill="#000" >#</text>
<text x="196" y="482.8" font-size="8.6" text-anchor="end" font-weight="bold" fill="#000" >DMSO</text>
<text x="196" y="491.4" font-size="8.6" text-anchor="end" font-weight="bold" fill="#000" >PDB<tspan dx="1.7">u</tspan></text>
<text x="205.7" y="483.32" font-size="10.5" text-anchor="middle" font-weight="normal" fill="#000" >+</text>
<text x="217.5" y="482.34" font-size="9.97" text-anchor="middle" font-weight="normal" fill="#000" >–</text>
<text x="244.5" y="483.32" font-size="10.5" text-anchor="middle" font-weight="normal" fill="#000" >+</text>
<text x="255.5" y="482.34" font-size="9.97" text-anchor="middle" font-weight="normal" fill="#000" >–</text>
<text x="205.7" y="490.74" font-size="9.97" text-anchor="middle" font-weight="normal" fill="#000" >–</text>
<text x="217.5" y="491.72" font-size="10.5" text-anchor="middle" font-weight="normal" fill="#000" >+</text>
<text x="244.5" y="490.74" font-size="9.97" text-anchor="middle" font-weight="normal" fill="#000" >–</text>
<text x="255.5" y="491.72" font-size="10.5" text-anchor="middle" font-weight="normal" fill="#000" >+</text>
<line x1="347.25" y1="386.01" x2="347.25" y2="373.35" stroke="#4a4a4a" stroke-width="0.9"/>
<line x1="346.05" y1="373.35" x2="348.45" y2="373.35" stroke="#4a4a4a" stroke-width="0.9"/>
<rect x="342.50" y="386.01" width="9.50" height="84.19" fill="#8e8e8e" stroke="#2a2a2a" stroke-width="0.9"/>
<line x1="356.40" y1="447.85" x2="356.40" y2="429.97" stroke="#4a4a4a" stroke-width="0.9"/>
<line x1="355.20" y1="429.97" x2="357.60" y2="429.97" stroke="#4a4a4a" stroke-width="0.9"/>
<rect x="352.00" y="447.85" width="8.80" height="22.35" fill="#000000" stroke="#2a2a2a" stroke-width="0.9"/>
<line x1="379.15" y1="432.20" x2="379.15" y2="416.56" stroke="#4a4a4a" stroke-width="0.9"/>
<line x1="377.95" y1="416.56" x2="380.35" y2="416.56" stroke="#4a4a4a" stroke-width="0.9"/>
<rect x="374.50" y="432.20" width="9.30" height="38.00" fill="#8e8e8e" stroke="#2a2a2a" stroke-width="0.9"/>
<line x1="388.40" y1="453.81" x2="388.40" y2="434.44" stroke="#4a4a4a" stroke-width="0.9"/>
<line x1="387.20" y1="434.44" x2="389.60" y2="434.44" stroke="#4a4a4a" stroke-width="0.9"/>
<rect x="383.80" y="453.81" width="9.20" height="16.39" fill="#000000" stroke="#2a2a2a" stroke-width="0.9"/>
<line x1="334.50" y1="365.40" x2="334.50" y2="471.00" stroke="#000" stroke-width="1.4"/>
<line x1="334.00" y1="470.20" x2="399.00" y2="470.20" stroke="#000" stroke-width="1.2999999999999998"/>
<line x1="332.10" y1="470.20" x2="334.50" y2="470.20" stroke="#000" stroke-width="1.1"/>
<text x="0" y="0" font-size="8.3" text-anchor="end" font-weight="bold" fill="#000" transform="translate(328.90,473.19) scale(0.87,1)">0</text>
<line x1="332.10" y1="455.30" x2="334.50" y2="455.30" stroke="#000" stroke-width="1.1"/>
<text x="0" y="0" font-size="8.3" text-anchor="end" font-weight="bold" fill="#000" transform="translate(328.90,458.29) scale(0.87,1)">10000</text>
<line x1="332.10" y1="440.40" x2="334.50" y2="440.40" stroke="#000" stroke-width="1.1"/>
<text x="0" y="0" font-size="8.3" text-anchor="end" font-weight="bold" fill="#000" transform="translate(328.90,443.39) scale(0.87,1)">20000</text>
<line x1="332.10" y1="425.50" x2="334.50" y2="425.50" stroke="#000" stroke-width="1.1"/>
<text x="0" y="0" font-size="8.3" text-anchor="end" font-weight="bold" fill="#000" transform="translate(328.90,428.49) scale(0.87,1)">30000</text>
<line x1="332.10" y1="410.60" x2="334.50" y2="410.60" stroke="#000" stroke-width="1.1"/>
<text x="0" y="0" font-size="8.3" text-anchor="end" font-weight="bold" fill="#000" transform="translate(328.90,413.59) scale(0.87,1)">40000</text>
<line x1="332.10" y1="395.70" x2="334.50" y2="395.70" stroke="#000" stroke-width="1.1"/>
<text x="0" y="0" font-size="8.3" text-anchor="end" font-weight="bold" fill="#000" transform="translate(328.90,398.69) scale(0.87,1)">50000</text>
<line x1="332.10" y1="380.80" x2="334.50" y2="380.80" stroke="#000" stroke-width="1.1"/>
<text x="0" y="0" font-size="8.3" text-anchor="end" font-weight="bold" fill="#000" transform="translate(328.90,383.79) scale(0.87,1)">60000</text>
<line x1="332.10" y1="365.90" x2="334.50" y2="365.90" stroke="#000" stroke-width="1.1"/>
<text x="0" y="0" font-size="8.3" text-anchor="end" font-weight="bold" fill="#000" transform="translate(328.90,368.89) scale(0.87,1)">70000</text>
<line x1="367.50" y1="470.20" x2="367.50" y2="472.70" stroke="#000" stroke-width="1.0"/>
<text transform="translate(294,424.6) rotate(-90)" font-size="9.05" font-weight="bold" text-anchor="middle">CD33 surface expression</text>
<text transform="translate(303.6,418.5) rotate(-90)" font-size="9.05" font-weight="bold" text-anchor="middle">(MESF)</text>
<text x="349.4" y="337.7" font-size="7.2" text-anchor="middle" font-weight="bold" fill="#000" >Scrambled</text>
<text x="352.2" y="346.3" font-size="7.2" text-anchor="middle" font-weight="bold" fill="#000" >siRNA</text>
<text x="384.3" y="337.7" font-size="7.2" text-anchor="middle" font-weight="bold" fill="#000" >PKC<tspan dx="0.6"></tspan><tspan font-family="Liberation Serif,serif" font-weight="normal" font-size="6.2" dy="1.3">ε</tspan></text>
<text x="384.8" y="346.3" font-size="7.2" text-anchor="middle" font-weight="bold" fill="#000" >siRNA</text>
<text x="360.5" y="360.6" font-size="11" text-anchor="middle" font-weight="bold" fill="#000" >*</text>
<text x="379.2" y="360.6" font-size="11" text-anchor="middle" font-weight="bold" fill="#000" >*</text>
<text x="388.4" y="360.6" font-size="11" text-anchor="middle" font-weight="bold" fill="#000" >*</text>
<text x="378.6" y="365.8" font-size="8" text-anchor="middle" font-weight="bold" fill="#000" >#</text>
<text x="336.4" y="482.7" font-size="8.5" text-anchor="end" font-weight="bold" fill="#000" >DMSO</text>
<text x="336.4" y="491.2" font-size="8.5" text-anchor="end" font-weight="bold" fill="#000" >PDB<tspan dx="1.7">u</tspan></text>
<text x="336.4" y="499.2" font-size="8.5" text-anchor="end" font-weight="bold" fill="#000" >TRAIL</text>
<text x="346.2" y="483.22" font-size="10.5" text-anchor="middle" font-weight="normal" fill="#000" >+</text>
<text x="356.5" y="482.24" font-size="9.97" text-anchor="middle" font-weight="normal" fill="#000" >–</text>
<text x="378.5" y="483.22" font-size="10.5" text-anchor="middle" font-weight="normal" fill="#000" >+</text>
<text x="388.4" y="482.24" font-size="9.97" text-anchor="middle" font-weight="normal" fill="#000" >–</text>
<text x="346.2" y="490.84" font-size="9.97" text-anchor="middle" font-weight="normal" fill="#000" >–</text>
<text x="356.5" y="491.82" font-size="10.5" text-anchor="middle" font-weight="normal" fill="#000" >+</text>
<text x="378.5" y="490.84" font-size="9.97" text-anchor="middle" font-weight="normal" fill="#000" >–</text>
<text x="388.4" y="491.82" font-size="10.5" text-anchor="middle" font-weight="normal" fill="#000" >+</text>
<text x="346.2" y="499.52" font-size="10.5" text-anchor="middle" font-weight="normal" fill="#000" >+</text>
<text x="356.5" y="499.52" font-size="10.5" text-anchor="middle" font-weight="normal" fill="#000" >+</text>
<text x="378.5" y="499.52" font-size="10.5" text-anchor="middle" font-weight="normal" fill="#000" >+</text>
<text x="388.4" y="499.52" font-size="10.5" text-anchor="middle" font-weight="normal" fill="#000" >+</text>
<line x1="465.15" y1="437.30" x2="465.15" y2="432.75" stroke="#4a4a4a" stroke-width="0.9"/>
<line x1="463.95" y1="432.75" x2="466.35" y2="432.75" stroke="#4a4a4a" stroke-width="0.9"/>
<rect x="460.80" y="437.30" width="8.70" height="33.80" fill="#8e8e8e" stroke="#2a2a2a" stroke-width="0.9"/>
<line x1="474.15" y1="411.30" x2="474.15" y2="405.45" stroke="#4a4a4a" stroke-width="0.9"/>
<line x1="472.95" y1="405.45" x2="475.35" y2="405.45" stroke="#4a4a4a" stroke-width="0.9"/>
<rect x="469.50" y="411.30" width="9.30" height="59.80" fill="#000000" stroke="#2a2a2a" stroke-width="0.9"/>
<line x1="496.90" y1="422.35" x2="496.90" y2="402.85" stroke="#4a4a4a" stroke-width="0.9"/>
<line x1="495.70" y1="402.85" x2="498.10" y2="402.85" stroke="#4a4a4a" stroke-width="0.9"/>
<rect x="492.50" y="422.35" width="8.80" height="48.75" fill="#8e8e8e" stroke="#2a2a2a" stroke-width="0.9"/>
<line x1="506.05" y1="393.10" x2="506.05" y2="383.35" stroke="#4a4a4a" stroke-width="0.9"/>
<line x1="504.85" y1="383.35" x2="507.25" y2="383.35" stroke="#4a4a4a" stroke-width="0.9"/>
<rect x="501.30" y="393.10" width="9.50" height="78.00" fill="#000000" stroke="#2a2a2a" stroke-width="0.9"/>
<line x1="452.80" y1="366.60" x2="452.80" y2="471.90" stroke="#000" stroke-width="1.4"/>
<line x1="452.30" y1="471.10" x2="518.00" y2="471.10" stroke="#000" stroke-width="1.2999999999999998"/>
<line x1="450.40" y1="471.10" x2="452.80" y2="471.10" stroke="#000" stroke-width="1.1"/>
<text x="0" y="0" font-size="8.3" text-anchor="end" font-weight="bold" fill="#000" transform="translate(448.40,474.09) scale(0.82,1)">0</text>
<line x1="450.40" y1="458.10" x2="452.80" y2="458.10" stroke="#000" stroke-width="1.1"/>
<text x="0" y="0" font-size="8.3" text-anchor="end" font-weight="bold" fill="#000" transform="translate(448.40,461.09) scale(0.82,1)">1000</text>
<line x1="450.40" y1="445.10" x2="452.80" y2="445.10" stroke="#000" stroke-width="1.1"/>
<text x="0" y="0" font-size="8.3" text-anchor="end" font-weight="bold" fill="#000" transform="translate(448.40,448.09) scale(0.82,1)">2000</text>
<line x1="450.40" y1="432.10" x2="452.80" y2="432.10" stroke="#000" stroke-width="1.1"/>
<text x="0" y="0" font-size="8.3" text-anchor="end" font-weight="bold" fill="#000" transform="translate(448.40,435.09) scale(0.82,1)">3000</text>
<line x1="450.40" y1="419.10" x2="452.80" y2="419.10" stroke="#000" stroke-width="1.1"/>
<text x="0" y="0" font-size="8.3" text-anchor="end" font-weight="bold" fill="#000" transform="translate(448.40,422.09) scale(0.82,1)">4000</text>
<line x1="450.40" y1="406.10" x2="452.80" y2="406.10" stroke="#000" stroke-width="1.1"/>
<text x="0" y="0" font-size="8.3" text-anchor="end" font-weight="bold" fill="#000" transform="translate(448.40,409.09) scale(0.82,1)">5000</text>
<line x1="450.40" y1="393.10" x2="452.80" y2="393.10" stroke="#000" stroke-width="1.1"/>
<text x="0" y="0" font-size="8.3" text-anchor="end" font-weight="bold" fill="#000" transform="translate(448.40,396.09) scale(0.82,1)">6000</text>
<line x1="450.40" y1="380.10" x2="452.80" y2="380.10" stroke="#000" stroke-width="1.1"/>
<text x="0" y="0" font-size="8.3" text-anchor="end" font-weight="bold" fill="#000" transform="translate(448.40,383.09) scale(0.82,1)">7000</text>
<line x1="450.40" y1="367.10" x2="452.80" y2="367.10" stroke="#000" stroke-width="1.1"/>
<text x="0" y="0" font-size="8.3" text-anchor="end" font-weight="bold" fill="#000" transform="translate(448.40,370.09) scale(0.82,1)">8000</text>
<line x1="485.70" y1="471.10" x2="485.70" y2="473.60" stroke="#000" stroke-width="1.0"/>
<text transform="translate(419.6,424.6) rotate(-90)" font-size="9.05" font-weight="bold" text-anchor="middle">CD41 surface expression</text>
<text transform="translate(430.6,418.5) rotate(-90)" font-size="9.05" font-weight="bold" text-anchor="middle">(MESF)</text>
<text x="467.5" y="337.7" font-size="7.2" text-anchor="middle" font-weight="bold" fill="#000" >Scrambled</text>
<text x="469.7" y="346.3" font-size="7.2" text-anchor="middle" font-weight="bold" fill="#000" >siRNA</text>
<text x="501" y="337.7" font-size="7.2" text-anchor="middle" font-weight="bold" fill="#000" >PKC<tspan dx="0.6"></tspan><tspan font-family="Liberation Serif,serif" font-weight="normal" font-size="6.2" dy="1.3">ε</tspan></text>
<text x="502" y="346.3" font-size="7.2" text-anchor="middle" font-weight="bold" fill="#000" >siRNA</text>
<text x="474.3" y="360.2" font-size="11" text-anchor="middle" font-weight="bold" fill="#000" >*</text>
<text x="506.2" y="360.2" font-size="11" text-anchor="middle" font-weight="bold" fill="#000" >*</text>
<text x="505.8" y="365.8" font-size="8" text-anchor="middle" font-weight="bold" fill="#000" >#</text>
<text x="453.3" y="482.7" font-size="8.5" text-anchor="end" font-weight="bold" fill="#000" >DMSO</text>
<text x="453.3" y="491.2" font-size="8.5" text-anchor="end" font-weight="bold" fill="#000" >PDB<tspan dx="1.7">u</tspan></text>
<text x="453.3" y="499.2" font-size="8.5" text-anchor="end" font-weight="bold" fill="#000" >TRAIL</text>
<text x="463.5" y="483.22" font-size="10.5" text-anchor="middle" font-weight="normal" fill="#000" >+</text>
<text x="473.4" y="482.24" font-size="9.97" text-anchor="middle" font-weight="normal" fill="#000" >–</text>
<text x="495.8" y="483.22" font-size="10.5" text-anchor="middle" font-weight="normal" fill="#000" >+</text>
<text x="505.7" y="482.24" font-size="9.97" text-anchor="middle" font-weight="normal" fill="#000" >–</text>
<text x="463.5" y="490.84" font-size="9.97" text-anchor="middle" font-weight="normal" fill="#000" >–</text>
<text x="473.4" y="491.82" font-size="10.5" text-anchor="middle" font-weight="normal" fill="#000" >+</text>
<text x="495.8" y="490.84" font-size="9.97" text-anchor="middle" font-weight="normal" fill="#000" >–</text>
<text x="505.7" y="491.82" font-size="10.5" text-anchor="middle" font-weight="normal" fill="#000" >+</text>
<text x="463.5" y="499.52" font-size="10.5" text-anchor="middle" font-weight="normal" fill="#000" >+</text>
<text x="473.4" y="499.52" font-size="10.5" text-anchor="middle" font-weight="normal" fill="#000" >+</text>
<text x="495.8" y="499.52" font-size="10.5" text-anchor="middle" font-weight="normal" fill="#000" >+</text>
<text x="505.7" y="499.52" font-size="10.5" text-anchor="middle" font-weight="normal" fill="#000" >+</text>
</svg>
</body></html>
